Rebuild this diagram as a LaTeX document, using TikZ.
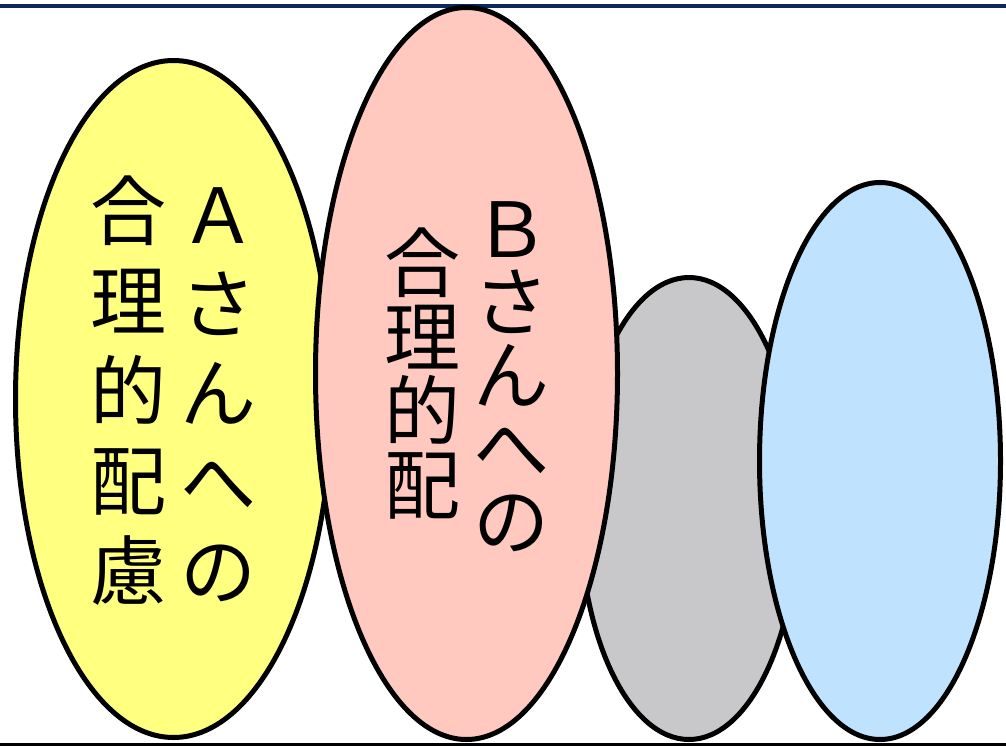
\documentclass[tikz,border=0pt]{standalone}
\usepackage{fontspec}
\newfontfamily\jpfont{Noto Sans CJK JP}
\usepackage{tikz}
\usetikzlibrary{shapes.geometric}
\definecolor{frameblue}{RGB}{12,38,94}
\definecolor{fillyellow}{RGB}{255,255,128}
\definecolor{fillpink}{RGB}{255,201,192}
\definecolor{fillgray}{RGB}{200,200,202}
\definecolor{fillblue}{RGB}{191,227,255}
\newcommand{\tcol}[3]{\raisebox{#1}[\height][\depth]{\parbox[c]{76pt}{\centering\baselineskip=#2\lineskiplimit=-200pt #3}}}

\begin{document}
\begin{tikzpicture}[x=1pt, y=-1pt,
	bubble/.style={ellipse, draw=black, line width=5pt, inner sep=0pt, font=\jpfont\fontsize{76}{90}\selectfont}]
	\useasboundingbox (0,0) rectangle (1006,746);
	\draw[frameblue, line width=3.5pt] (0,6) -- (1006,6);
	\draw[black, line width=2.5pt] (0,744.5) -- (1006,744.5);

	\node[bubble, fill=fillyellow, minimum width=316pt, minimum height=677pt] (1) at (173.5,399)
		{\tcol{8pt}{90pt}{合\\理\\的\\配\\慮}\hspace{14pt}\tcol{4pt}{89pt}{Ａ\\さ\\ん\\へ\\の}};
	\node[bubble, fill=fillgray, minimum width=219pt, minimum height=462pt] (3) at (689,508.5) {};
	\node[bubble, fill=fillpink, minimum width=302pt, minimum height=732pt] (2) at (466.5,373.5)
		{\tcol{0pt}{74pt}{合\\理\\的\\配}\hspace{13pt}\tcol{-3pt}{73pt}{Ｂ\\さ\\ん\\へ\\の}};
	\node[bubble, fill=fillblue, minimum width=241pt, minimum height=557pt] (4) at (880,461) {};
\end{tikzpicture}
\end{document}
